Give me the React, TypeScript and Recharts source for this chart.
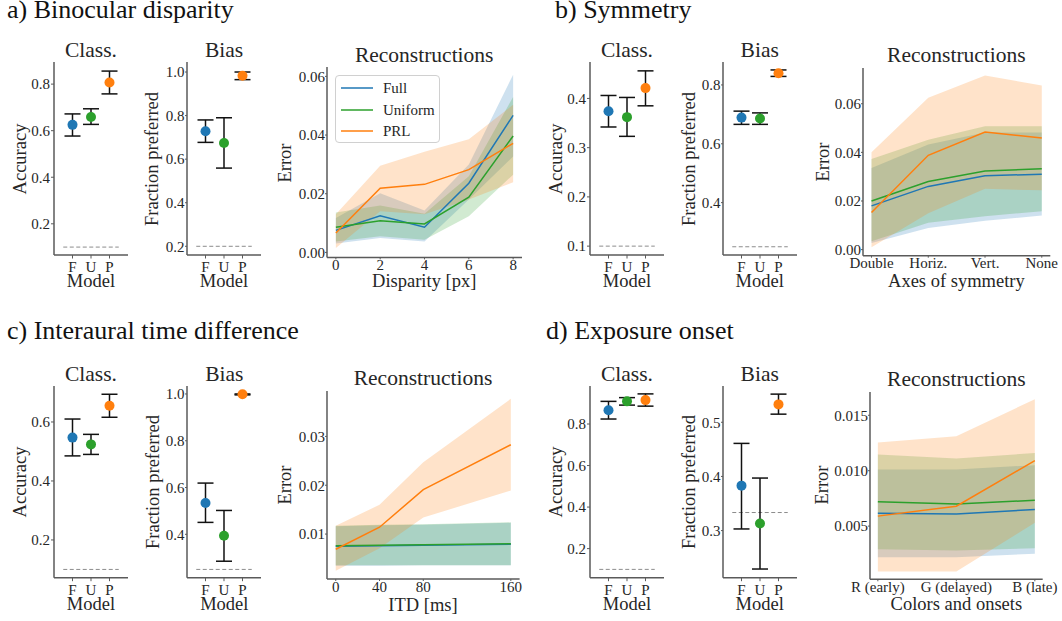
import React from 'react';
import {
  ComposedChart,
  Scatter,
  ErrorBar,
  Cell,
  Area,
  Line,
  XAxis,
  YAxis,
  ReferenceLine,
  Legend,
} from 'recharts';

const FONT = '"Liberation Serif", "Times New Roman", "DejaVu Serif", serif';
const TEXT = '#262626';
const SPINE = '#5a5a5a';

const MODELS = ['F', 'U', 'P'];
const MODEL_COLORS = ['#1f77b4', '#2ca02c', '#ff7f0e'];
const SERIES_NAMES = ['Full', 'Uniform', 'PRL'];
const SERIES_COLORS = ['#1f77b4', '#2ca02c', '#ff7f0e'];

// a) Binocular disparity
const aClassMean = [0.625, 0.659, 0.807];
const aClassLow = [0.577, 0.627, 0.758];
const aClassHigh = [0.672, 0.694, 0.856];
const aBiasMean = [0.728, 0.674, 0.983];
const aBiasLow = [0.677, 0.559, 0.965];
const aBiasHigh = [0.78, 0.79, 1.0];

const disparity = [0, 2, 4, 6, 8];
const aFullMean = [0.0075, 0.0125, 0.0086, 0.0236, 0.0467];
const aFullLow = [0.003, 0.0049, 0.0037, 0.018, 0.0327];
const aFullHigh = [0.0117, 0.0202, 0.0143, 0.03, 0.0606];
const aUniMean = [0.0086, 0.0108, 0.0097, 0.0188, 0.0397];
const aUniLow = [0.0037, 0.0055, 0.0043, 0.0123, 0.0265];
const aUniHigh = [0.0136, 0.016, 0.0132, 0.026, 0.053];
const aPrlMean = [0.0066, 0.0219, 0.0232, 0.0282, 0.0372];
const aPrlLow = [0.0015, 0.014, 0.013, 0.018, 0.0239];
const aPrlHigh = [0.013, 0.0295, 0.0343, 0.0386, 0.0503];

// b) Symmetry
const bClassMean = [0.374, 0.362, 0.421];
const bClassLow = [0.342, 0.323, 0.385];
const bClassHigh = [0.406, 0.402, 0.456];
const bBiasMean = [0.689, 0.686, 0.84];
const bBiasLow = [0.666, 0.666, 0.829];
const bBiasHigh = [0.711, 0.705, 0.851];

const symmetryAxes = ['Double', 'Horiz.', 'Vert.', 'None'];
const bFullMean = [0.018, 0.026, 0.0304, 0.031];
const bFullLow = [0.0027, 0.0089, 0.0119, 0.014];
const bFullHigh = [0.0336, 0.0432, 0.0482, 0.0482];
const bUniMean = [0.02, 0.028, 0.0323, 0.0333];
const bUniLow = [0.0034, 0.011, 0.0137, 0.0158];
const bUniHigh = [0.0373, 0.0452, 0.0507, 0.0507];
const bPrlMean = [0.0153, 0.0388, 0.0484, 0.0459];
const bPrlLow = [0.001, 0.015, 0.025, 0.0244];
const bPrlHigh = [0.04, 0.0625, 0.0716, 0.0675];

// c) Interaural time difference
const cClassMean = [0.547, 0.524, 0.655];
const cClassLow = [0.485, 0.49, 0.616];
const cClassHigh = [0.61, 0.558, 0.694];
const cBiasMean = [0.534, 0.394, 0.999];
const cBiasLow = [0.451, 0.285, 0.996];
const cBiasHigh = [0.619, 0.502, 1.0];

const itd = [0, 40, 80, 160];
const cFullMean = [0.0075, 0.0076, 0.0077, 0.0079];
const cFullLow = [0.0035, 0.0035, 0.0036, 0.0036];
const cFullHigh = [0.0116, 0.0118, 0.0119, 0.0123];
const cUniMean = [0.0076, 0.0077, 0.0078, 0.008];
const cUniLow = [0.0036, 0.0036, 0.0036, 0.0036];
const cUniHigh = [0.0117, 0.0119, 0.012, 0.0124];
const cPrlMean = [0.0069, 0.0114, 0.0191, 0.0283];
const cPrlLow = [0.0025, 0.0071, 0.0134, 0.0189];
const cPrlHigh = [0.0117, 0.016, 0.0247, 0.0377];

// d) Exposure onset
const dClassMean = [0.866, 0.909, 0.915];
const dClassLow = [0.824, 0.891, 0.886];
const dClassHigh = [0.909, 0.927, 0.945];
const dBiasMean = [0.383, 0.313, 0.533];
const dBiasLow = [0.303, 0.229, 0.515];
const dBiasHigh = [0.461, 0.397, 0.552];

const onsets = ['R (early)', 'G (delayed)', 'B (late)'];
const dFullMean = [0.00615, 0.0061, 0.0065];
const dFullLow = [0.0022, 0.0022, 0.0025];
const dFullHigh = [0.0101, 0.0101, 0.0105];
const dUniMean = [0.0072, 0.007, 0.00733];
const dUniLow = [0.0029, 0.0028, 0.003];
const dUniHigh = [0.01145, 0.0111, 0.0116];
const dPrlMean = [0.0059, 0.0068, 0.0109];
const dPrlLow = [0.0009, 0.0009, 0.0053];
const dPrlHigh = [0.01255, 0.0131, 0.01645];

const PADL = 60;
const PADR = 22;
const PADT = 12;
const PADB = 40;

const tickStyle = { fontSize: 15, fill: TEXT, fontFamily: FONT };

const Dot = (p: any) => <circle cx={p.cx} cy={p.cy} r={5} fill={p.fill} />;

const ModelPanel = ({ rect, mean, low, high, yDomain, yTicks, chance, yGap }: any) => {
  const data = MODELS.map((m, i) => ({ x: i, y: mean[i], err: [mean[i] - low[i], high[i] - mean[i]] }));
  return (
    <div style={{ position: 'absolute', left: rect.x - PADL, top: rect.y - PADT }}>
      <ComposedChart
        width={rect.w + PADL + PADR}
        height={rect.h + PADT + PADB}
        margin={{ top: PADT, right: PADR, bottom: 0, left: 0 }}
      >
        <XAxis
          type="number"
          dataKey="x"
          domain={[-1, 3]}
          ticks={[0, 1, 2]}
          tickFormatter={(v: number) => MODELS[v]}
          height={PADB}
          tick={tickStyle}
          tickSize={3.5}
          tickMargin={3}
          axisLine={{ stroke: SPINE, strokeWidth: 1.5 }}
          tickLine={{ stroke: SPINE }}
          allowDataOverflow
        />
        <YAxis
          type="number"
          dataKey="y"
          domain={yDomain}
          ticks={yTicks}
          tickFormatter={(v: number) => v.toFixed(1)}
          width={PADL}
          tick={tickStyle}
          tickSize={yGap[0]}
          tickMargin={yGap[1]}
          axisLine={{ stroke: SPINE, strokeWidth: 1.5 }}
          tickLine={{ stroke: SPINE }}
          allowDataOverflow
        />
        <ReferenceLine
          segment={[{ x: -0.5, y: chance }, { x: 2.5, y: chance }]}
          stroke="#8c8c8c"
          strokeWidth={1}
          strokeDasharray="4 2.5"
        />
        <Scatter data={data} isAnimationActive={false} shape={Dot}>
          {data.map((d, i) => (
            <Cell key={i} fill={MODEL_COLORS[i]} />
          ))}
          <ErrorBar dataKey="err" direction="y" width={8} stroke="#111" strokeWidth={1.5} isAnimationActive={false} />
        </Scatter>
      </ComposedChart>
    </div>
  );
};

const LegendBox = ({ payload }: any) => {
  const items = (payload || [])
    .filter((p: any) => SERIES_NAMES.includes(p.value))
    .sort((a: any, b: any) => SERIES_NAMES.indexOf(a.value) - SERIES_NAMES.indexOf(b.value));
  return (
    <div
      style={{
        width: 103,
        height: 66,
        border: '1px solid #d0d0d0',
        borderRadius: 4,
        background: 'rgba(255,255,255,0.85)',
        fontFamily: FONT,
        fontSize: 15,
        color: TEXT,
        position: 'relative',
      }}
    >
      {items.map((p: any, i: number) => (
        <div key={i} style={{ position: 'absolute', left: 0, top: 3 + i * 21.7, height: 18, width: 103 }}>
          <svg width={40} height={18} style={{ position: 'absolute', left: 3, top: 0 }}>
            <line x1={2} y1={9} x2={34} y2={9} stroke={SERIES_COLORS[SERIES_NAMES.indexOf(p.value)]} strokeWidth={1.5} />
          </svg>
          <div style={{ position: 'absolute', left: 47, top: 0, lineHeight: '18px', whiteSpace: 'nowrap' }}>{p.value}</div>
        </div>
      ))}
    </div>
  );
};

const ReconPanel = ({ rect, xs, xDomain, xTicks, xFormat, yDomain, yTicks, yFormat, series, legendAt }: any) => {
  const data = xs.map((x: number, i: number) => {
    const row: Record<string, any> = { x };
    series.forEach((s: any) => {
      row[s.key] = s.mean[i];
      row[s.key + 'Band'] = [s.low[i], s.high[i]];
    });
    return row;
  });
  return (
    <div style={{ position: 'absolute', left: rect.x - PADL, top: rect.y - PADT }}>
      <ComposedChart
        width={rect.w + PADL + PADR}
        height={rect.h + PADT + PADB}
        data={data}
        margin={{ top: PADT, right: PADR, bottom: 0, left: 0 }}
      >
        <XAxis
          type="number"
          dataKey="x"
          domain={xDomain}
          ticks={xTicks}
          tickFormatter={xFormat}
          height={PADB}
          tick={tickStyle}
          tickSize={2}
          tickMargin={0}
          axisLine={{ stroke: SPINE, strokeWidth: 1.5 }}
          tickLine={{ stroke: SPINE }}
          allowDataOverflow
          interval={0}
        />
        <YAxis
          type="number"
          domain={yDomain}
          ticks={yTicks}
          tickFormatter={yFormat}
          width={PADL}
          tick={tickStyle}
          tickSize={2}
          tickMargin={0}
          axisLine={{ stroke: SPINE, strokeWidth: 1.5 }}
          tickLine={{ stroke: SPINE }}
          allowDataOverflow
        />
        {series.map((s: any) => (
          <Area
            key={s.key + 'Band'}
            type="linear"
            dataKey={s.key + 'Band'}
            stroke="none"
            fill={s.color}
            fillOpacity={0.22}
            legendType="none"
            dot={false}
            activeDot={false}
            isAnimationActive={false}
          />
        ))}
        {series.map((s: any) => (
          <Line
            key={s.key}
            type="linear"
            dataKey={s.key}
            name={s.name}
            stroke={s.color}
            strokeWidth={1.5}
            dot={false}
            activeDot={false}
            isAnimationActive={false}
          />
        ))}
        {legendAt && (
          <Legend
            layout="vertical"
            align="center"
            verticalAlign="middle"
            wrapperStyle={{ left: legendAt[0] - (rect.x - PADL), top: legendAt[1] - (rect.y - PADT), width: 105 }}
            content={LegendBox}
          />
        )}
      </ComposedChart>
    </div>
  );
};

// y is the text baseline; lh is the line height as a fraction of the size
const Txt = ({ x, y, size, children, align = 'center', color = TEXT, lh = 1 }: any) => (
  <div
    style={{
      position: 'absolute',
      left: x,
      top: y - ((lh - 1.107) / 2 + 0.891) * size,
      fontSize: size,
      lineHeight: `${lh * size}px`,
      whiteSpace: 'nowrap',
      color,
      transform: align === 'center' ? 'translateX(-50%)' : undefined,
    }}
  >
    {children}
  </div>
);

// x is the baseline of the rotated text, y its centre
const VTxt = ({ x, y, size = 18.5, children }: any) => (
  <div
    style={{
      position: 'absolute',
      left: x - 0.3375 * size,
      top: y,
      fontSize: size,
      lineHeight: `${size}px`,
      whiteSpace: 'nowrap',
      color: TEXT,
      transform: 'translate(-50%, -50%) rotate(-90deg)',
    }}
  >
    {children}
  </div>
);

const mkSeries = (means: number[][], lows: number[][], highs: number[][]) =>
  ['full', 'uni', 'prl'].map((key, i) => ({
    key,
    name: SERIES_NAMES[i],
    color: SERIES_COLORS[i],
    mean: means[i],
    low: lows[i],
    high: highs[i],
  }));

const fix = (n: number) => (v: number) => v.toFixed(n);

export default function App() {
  const aSeries = mkSeries([aFullMean, aUniMean, aPrlMean], [aFullLow, aUniLow, aPrlLow], [aFullHigh, aUniHigh, aPrlHigh]);
  const bSeries = mkSeries([bFullMean, bUniMean, bPrlMean], [bFullLow, bUniLow, bPrlLow], [bFullHigh, bUniHigh, bPrlHigh]);
  const cSeries = mkSeries([cFullMean, cUniMean, cPrlMean], [cFullLow, cUniLow, cPrlLow], [cFullHigh, cUniHigh, cPrlHigh]);
  const dSeries = mkSeries([dFullMean, dUniMean, dPrlMean], [dFullLow, dUniLow, dPrlLow], [dFullHigh, dUniHigh, dPrlHigh]);

  const r = {
    aClass: { x: 54, y: 62, w: 74, h: 193 },
    aBias: { x: 187, y: 62, w: 74, h: 193 },
    aRecon: { x: 326.7, y: 67.3, w: 195, h: 190.4 },
    bClass: { x: 590, y: 62, w: 74, h: 193 },
    bBias: { x: 722.7, y: 62, w: 74, h: 193 },
    bRecon: { x: 862.7, y: 68.3, w: 187.3, h: 187.7 },
    cClass: { x: 54, y: 386, w: 74, h: 191.7 },
    cBias: { x: 187.3, y: 386, w: 74, h: 191.7 },
    cRecon: { x: 326.7, y: 390.7, w: 192.6, h: 188 },
    dClass: { x: 590, y: 386, w: 74, h: 191.7 },
    dBias: { x: 722.7, y: 386, w: 74, h: 191.7 },
    dRecon: { x: 870, y: 391.7, w: 172.7, h: 187.3 },
  };
  const CL = [3, 1];
  const BI = [2, 0.5];

  return (
    <div
      style={{
        position: 'absolute',
        left: 0,
        top: 0,
        width: 1062,
        height: 621,
        overflow: 'hidden',
        background: '#fff',
        fontFamily: FONT,
        color: TEXT,
      }}
    >
      {/* panel headings */}
      <Txt x={7} y={18.5} size={26} lh={0.7} align="left" color="#111">a) Binocular disparity</Txt>
      <Txt x={555} y={18.5} size={26} lh={0.7} align="left" color="#111">b) Symmetry</Txt>
      <Txt x={7} y={339.5} size={26} lh={0.7} align="left" color="#111">c) Interaural time difference</Txt>
      <Txt x={546} y={339.5} size={26} lh={0.7} align="left" color="#111">d) Exposure onset</Txt>

      {/* a */}
      <ModelPanel rect={r.aClass} mean={aClassMean} low={aClassLow} high={aClassHigh} yDomain={[0.066, 0.895]} yTicks={[0.2, 0.4, 0.6, 0.8]} chance={0.1} yGap={CL} />
      <ModelPanel rect={r.aBias} mean={aBiasMean} low={aBiasLow} high={aBiasHigh} yDomain={[0.16, 1.046]} yTicks={[0.2, 0.4, 0.6, 0.8, 1.0]} chance={0.2} yGap={BI} />
      <ReconPanel
        rect={r.aRecon}
        xs={disparity}
        xDomain={[-0.4, 8.4]}
        xTicks={disparity}
        xFormat={(v: number) => String(v)}
        yDomain={[-0.0017, 0.0632]}
        yTicks={[0, 0.02, 0.04, 0.06]}
        yFormat={fix(2)}
        series={aSeries}
        legendAt={[335, 75]}
      />

      {/* b */}
      <ModelPanel rect={r.bClass} mean={bClassMean} low={bClassLow} high={bClassHigh} yDomain={[0.082, 0.474]} yTicks={[0.1, 0.2, 0.3, 0.4]} chance={0.1} yGap={CL} />
      <ModelPanel rect={r.bBias} mean={bBiasMean} low={bBiasLow} high={bBiasHigh} yDomain={[0.222, 0.878]} yTicks={[0.4, 0.6, 0.8]} chance={0.25} yGap={BI} />
      <ReconPanel
        rect={r.bRecon}
        xs={[0, 1, 2, 3]}
        xDomain={[-0.15, 3.15]}
        xTicks={[0, 1, 2, 3]}
        xFormat={(v: number) => symmetryAxes[v]}
        yDomain={[-0.0025, 0.0747]}
        yTicks={[0, 0.02, 0.04, 0.06]}
        yFormat={fix(2)}
        series={bSeries}
      />

      {/* c */}
      <ModelPanel rect={r.cClass} mean={cClassMean} low={cClassLow} high={cClassHigh} yDomain={[0.072, 0.722]} yTicks={[0.2, 0.4, 0.6]} chance={0.1} yGap={CL} />
      <ModelPanel rect={r.cBias} mean={cBiasMean} low={cBiasLow} high={cBiasHigh} yDomain={[0.2146, 1.034]} yTicks={[0.4, 0.6, 0.8, 1.0]} chance={0.25} yGap={BI} />
      <ReconPanel
        rect={r.cRecon}
        xs={itd}
        xDomain={[-8, 168]}
        xTicks={itd}
        xFormat={(v: number) => String(v)}
        yDomain={[0.0008, 0.0393]}
        yTicks={[0.01, 0.02, 0.03]}
        yFormat={fix(2)}
        series={cSeries}
      />

      {/* d */}
      <ModelPanel rect={r.dClass} mean={dClassMean} low={dClassLow} high={dClassHigh} yDomain={[0.06, 0.983]} yTicks={[0.2, 0.4, 0.6, 0.8]} chance={0.1} yGap={CL} />
      <ModelPanel rect={r.dBias} mean={dBiasMean} low={dBiasLow} high={dBiasHigh} yDomain={[0.213, 0.567]} yTicks={[0.3, 0.4, 0.5]} chance={1 / 3} yGap={BI} />
      <ReconPanel
        rect={r.dRecon}
        xs={[0, 1, 2]}
        xDomain={[-0.1, 2.1]}
        xTicks={[0, 1, 2]}
        xFormat={(v: number) => onsets[v]}
        yDomain={[0.0002, 0.0171]}
        yTicks={[0.005, 0.01, 0.015]}
        yFormat={fix(3)}
        series={dSeries}
      />

      {/* subplot titles */}
      <Txt x={91} y={58.3} size={21.5}>Class.</Txt>
      <Txt x={224} y={58.3} size={21.5}>Bias</Txt>
      <Txt x={424.2} y={63.3} size={21.5}>Reconstructions</Txt>
      <Txt x={627} y={58.3} size={21.5}>Class.</Txt>
      <Txt x={759.7} y={58.3} size={21.5}>Bias</Txt>
      <Txt x={956.4} y={63.3} size={21.5}>Reconstructions</Txt>
      <Txt x={91} y={381.7} size={21.5}>Class.</Txt>
      <Txt x={224.3} y={381.7} size={21.5}>Bias</Txt>
      <Txt x={423} y={386} size={21.5}>Reconstructions</Txt>
      <Txt x={627} y={381.7} size={21.5}>Class.</Txt>
      <Txt x={759.7} y={381.7} size={21.5}>Bias</Txt>
      <Txt x={956.4} y={387.3} size={21.5}>Reconstructions</Txt>

      {/* x axis labels */}
      <Txt x={91} y={288} size={18.5} lh={0.8}>Model</Txt>
      <Txt x={224} y={288} size={18.5} lh={0.8}>Model</Txt>
      <Txt x={424.2} y={287} size={18.5}>Disparity [px]</Txt>
      <Txt x={627} y={288} size={18.5} lh={0.8}>Model</Txt>
      <Txt x={759.7} y={288} size={18.5} lh={0.8}>Model</Txt>
      <Txt x={956.4} y={287.3} size={18.5}>Axes of symmetry</Txt>
      <Txt x={91} y={610.5} size={18.5} lh={0.8}>Model</Txt>
      <Txt x={224.3} y={610.5} size={18.5} lh={0.8}>Model</Txt>
      <Txt x={423} y={611} size={18.5}>ITD [ms]</Txt>
      <Txt x={627} y={610.5} size={18.5} lh={0.8}>Model</Txt>
      <Txt x={759.7} y={610.5} size={18.5} lh={0.8}>Model</Txt>
      <Txt x={956.4} y={610.7} size={18.5}>Colors and onsets</Txt>

      {/* y axis labels */}
      <VTxt x={26} y={158.5}>Accuracy</VTxt>
      <VTxt x={158.4} y={158.5}>Fraction preferred</VTxt>
      <VTxt x={291.7} y={162.5}>Error</VTxt>
      <VTxt x={562.7} y={158.5}>Accuracy</VTxt>
      <VTxt x={695} y={158.5}>Fraction preferred</VTxt>
      <VTxt x={829.3} y={162}>Error</VTxt>
      <VTxt x={26} y={482}>Accuracy</VTxt>
      <VTxt x={158.9} y={482}>Fraction preferred</VTxt>
      <VTxt x={291.7} y={484.7}>Error</VTxt>
      <VTxt x={562.7} y={482}>Accuracy</VTxt>
      <VTxt x={695} y={482}>Fraction preferred</VTxt>
      <VTxt x={828.3} y={485.3}>Error</VTxt>
    </div>
  );
}
